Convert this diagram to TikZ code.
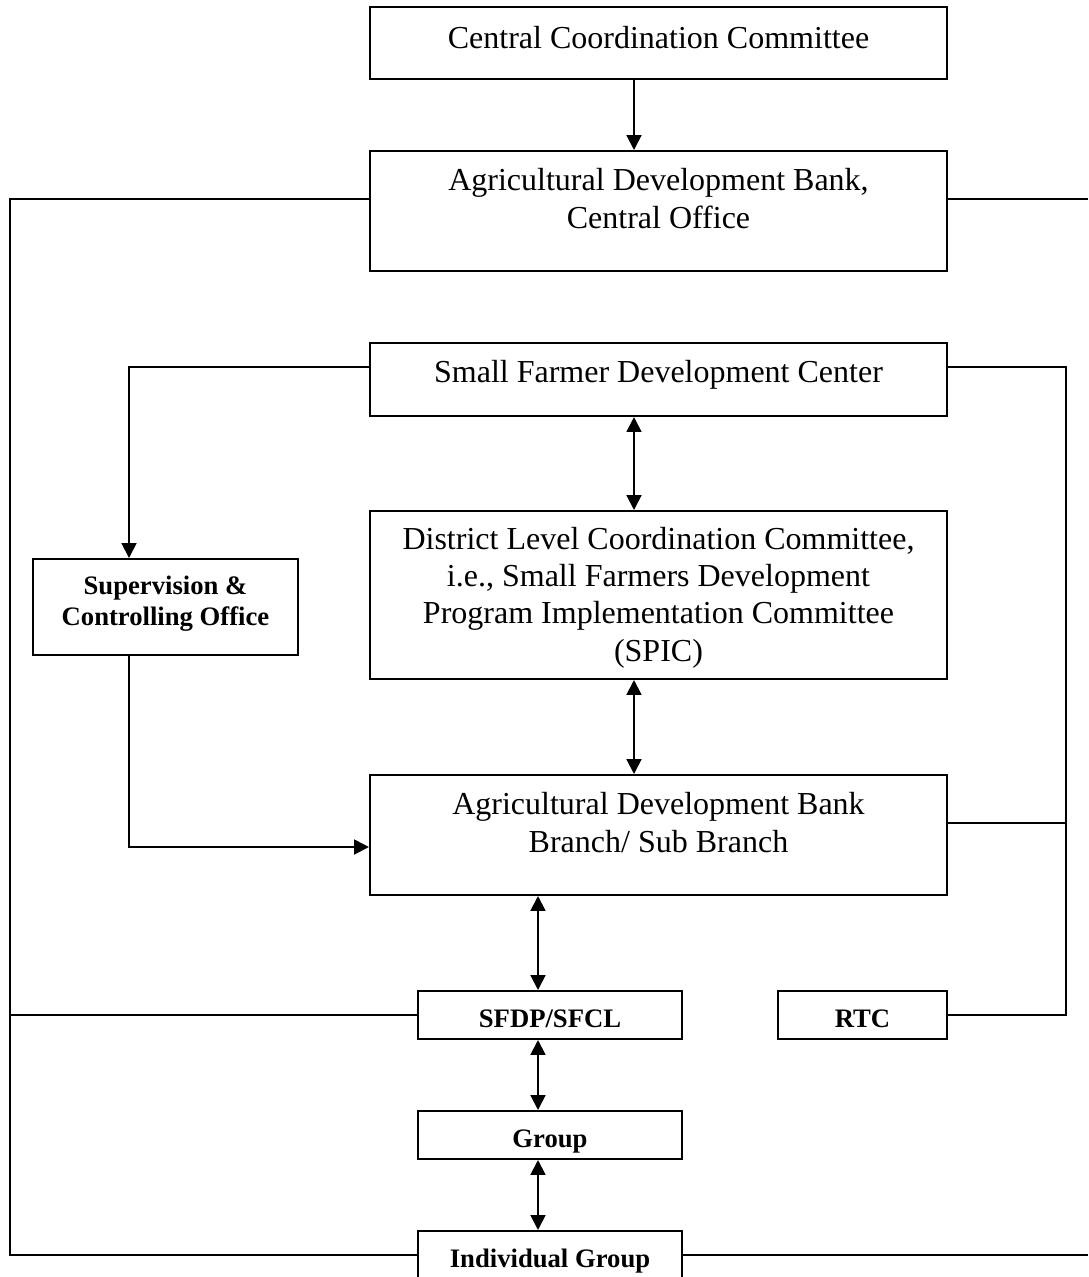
\documentclass[tikz,border=0pt]{standalone}
\usepackage{fontspec}
\setmainfont{Liberation Serif}
\usetikzlibrary{arrows.meta}
\begin{document}
\begin{tikzpicture}[x=0.375pt,y=-0.375pt,
  box/.style={draw, line width=0.75pt, rectangle, inner sep=0pt},
  rt/.style={font=\fontsize{12pt}{13.9pt}\selectfont, align=center, anchor=base, inner sep=0pt},
  bt/.style={font=\bfseries\fontsize{10pt}{11.6pt}\selectfont, align=center, anchor=base, inner sep=0pt},
  conn/.style={line width=0.75pt},
  arr/.style={conn, -{Triangle[length=5.6pt,width=5.6pt]}},
  dbl/.style={conn, {Triangle[length=5.6pt,width=5.6pt]}-{Triangle[length=5.6pt,width=5.6pt]}}]
\useasboundingbox (0,0) rectangle (1088,1277);
\clip (0,0) rectangle (1088,1277);

% boxes
\node[box, minimum width=216.4pt, minimum height=27pt]   (cco)    at (658.5,43) {};
\node[box, minimum width=216.4pt, minimum height=45pt]   (co)     at (658.5,211) {};
\node[box, minimum width=216.4pt, minimum height=27.4pt] (sfdc)   at (658.5,379.5) {};
\node[box, minimum width=216.4pt, minimum height=63pt]   (dlcc)   at (658.5,595) {};
\node[box, minimum width=216.4pt, minimum height=45pt]   (branch) at (658.5,835) {};
\node[box, minimum width=99.4pt,  minimum height=36pt]   (sup)    at (165.5,607) {};
\node[box, minimum width=99pt,    minimum height=18pt]   (sfdp)   at (550,1015) {};
\node[box, minimum width=63.4pt,  minimum height=18pt]   (rtc)    at (862.5,1015) {};
\node[box, minimum width=99pt,    minimum height=18pt]   (group)  at (550,1135) {};
\node[box, minimum width=99pt,    minimum height=25.9pt] (indiv)  at (550,1265.5) {};

% texts (base anchor = baseline of last line)
\node[rt] (ccoT)    at (658.5,48)  {Central Coordination Committee};
\node[rt] (coT)     at (658.5,228) {Agricultural Development Bank,\\Central Office};
\node[rt] (sfdcT)   at (658.5,382) {Small Farmer Development Center};
\node[rt] (dlccT)   at (658.5,661) {District Level Coordination Committee,\\i.e., Small Farmers Development\\Program Implementation Committee\\(SPIC)};
\node[rt] (branchT) at (658.5,852) {Agricultural Development Bank\\Branch/ Sub Branch};
\node[bt] (supT)    at (165.5,625) {Supervision \&\\Controlling Office};
\node[bt] (sfdpT)   at (550,1027)  {SFDP/SFCL};
\node[bt] (rtcT)    at (862.5,1027) {RTC};
\node[bt] (groupT)  at (550,1147)  {Group};
\node[bt] (indivT)  at (550,1267)  {Individual Group};

% helper coordinates
\coordinate (colA) at (634,0);
\coordinate (colB) at (538,0);
\coordinate (leftX) at (10,0);
\coordinate (rightX) at (1066,0);
\coordinate (supX) at (129,0);
\coordinate (edgeR1) at (1088,199);
\coordinate (edgeR2) at (1088,1255);
\coordinate (sfdcL) at (0,367);
\coordinate (brL) at (0,847);
\coordinate (brR) at (0,823);

% connectors
\draw[arr] (cco.south -| colA) -- (co.north -| colA);
\draw[conn] (co.west |- edgeR1) -| (leftX |- edgeR2) -- (indiv.west |- edgeR2);
\draw[conn] (co.east |- edgeR1) -- (edgeR1);
\draw[conn] (indiv.east |- edgeR2) -- (edgeR2);
\draw[conn] (sfdp.west) -- (leftX |- sfdp.west);
\draw[arr] (sfdc.west |- sfdcL) -| (supX |- sup.north);
\draw[arr] (supX |- sup.south) |- (branch.west |- brL);
\draw[conn] (sfdc.east |- sfdcL) -| (rightX |- rtc.east) -- (rtc.east);
\draw[conn] (branch.east |- brR) -- (rightX |- brR);
\draw[dbl] (sfdc.south -| colA) -- (dlcc.north -| colA);
\draw[dbl] (dlcc.south -| colA) -- (branch.north -| colA);
\draw[dbl] (branch.south -| colB) -- (sfdp.north -| colB);
\draw[dbl] (sfdp.south -| colB) -- (group.north -| colB);
\draw[dbl] (group.south -| colB) -- (indiv.north -| colB);
\end{tikzpicture}
\end{document}
